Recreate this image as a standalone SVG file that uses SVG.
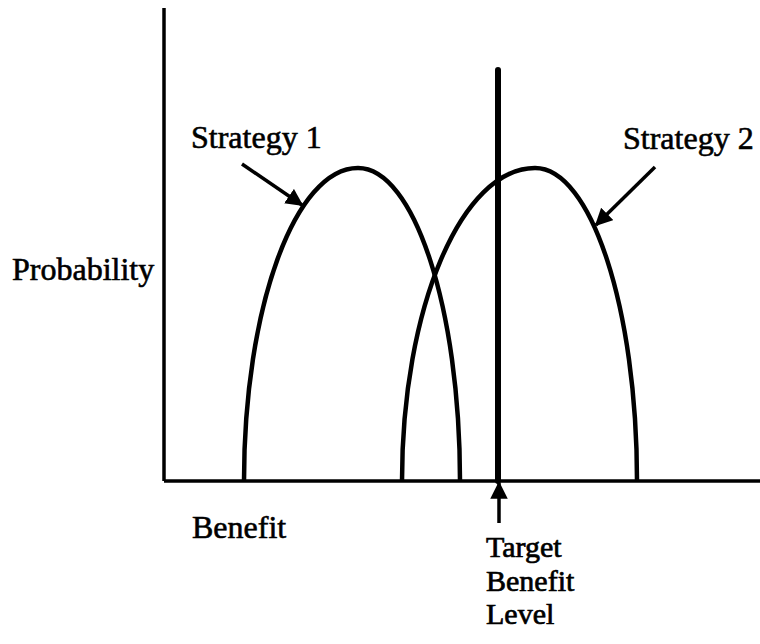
<svg xmlns="http://www.w3.org/2000/svg" width="760" height="644" viewBox="0 0 760 644">
  <style>
    .lbl { font-family: "Liberation Serif", "Times New Roman", serif; font-size: 32px; fill: #000; stroke: #000; stroke-width: 0.6; }
    .tgt { font-size: 30px; stroke-width: 0.7; }
    .curve { fill: none; stroke: #000; stroke-width: 4.5; }
    .axis { stroke: #000; stroke-width: 3.5; fill: none; }
    .conn { stroke: #000; stroke-width: 3.5; fill: none; }
  </style>
  <defs>
    <marker id="ah" viewBox="0 0 10 10" refX="9" refY="5" markerWidth="5" markerHeight="5" orient="auto" markerUnits="strokeWidth">
      <path d="M0,0 L10,5 L0,10 z" fill="#000"/>
    </marker>
  </defs>
  <rect width="760" height="644" fill="#fff"/>

  <g id="axes">
    <line class="axis" x1="164" y1="8" x2="164" y2="481"/>
    <line class="axis" x1="164" y1="481" x2="760" y2="481"/>
    <text class="lbl" x="12" y="280">Probability</text>
    <text class="lbl" x="192" y="538">Benefit</text>
  </g>

  <g id="strategy1">
    <path class="curve" d="M244,481 C244,308 295,168 358,168 C414,168 460,308 460,481"/>
    <text class="lbl" x="191" y="148">Strategy 1</text>
  </g>

  <g id="strategy2">
    <path class="curve" d="M402,481 C402,308 461.5,168 535,168 C591,168 637,308 637,481"/>
    <text class="lbl" x="623" y="149">Strategy 2</text>
  </g>

  <g id="target">
    <line x1="498" y1="70" x2="498" y2="481" stroke="#000" stroke-width="6" stroke-linecap="round"/>
    <text class="lbl tgt" x="486" y="557">Target</text>
    <text class="lbl tgt" x="486" y="590.5">Benefit</text>
    <text class="lbl tgt" x="486" y="624">Level</text>
  </g>

  <g id="connectors">
    <line class="conn" x1="242" y1="164" x2="302" y2="205" marker-end="url(#ah)"/>
    <line class="conn" x1="655" y1="167" x2="596" y2="225" marker-end="url(#ah)"/>
    <line class="conn" x1="499" y1="523" x2="499" y2="483" marker-end="url(#ah)"/>
  </g>
</svg>
